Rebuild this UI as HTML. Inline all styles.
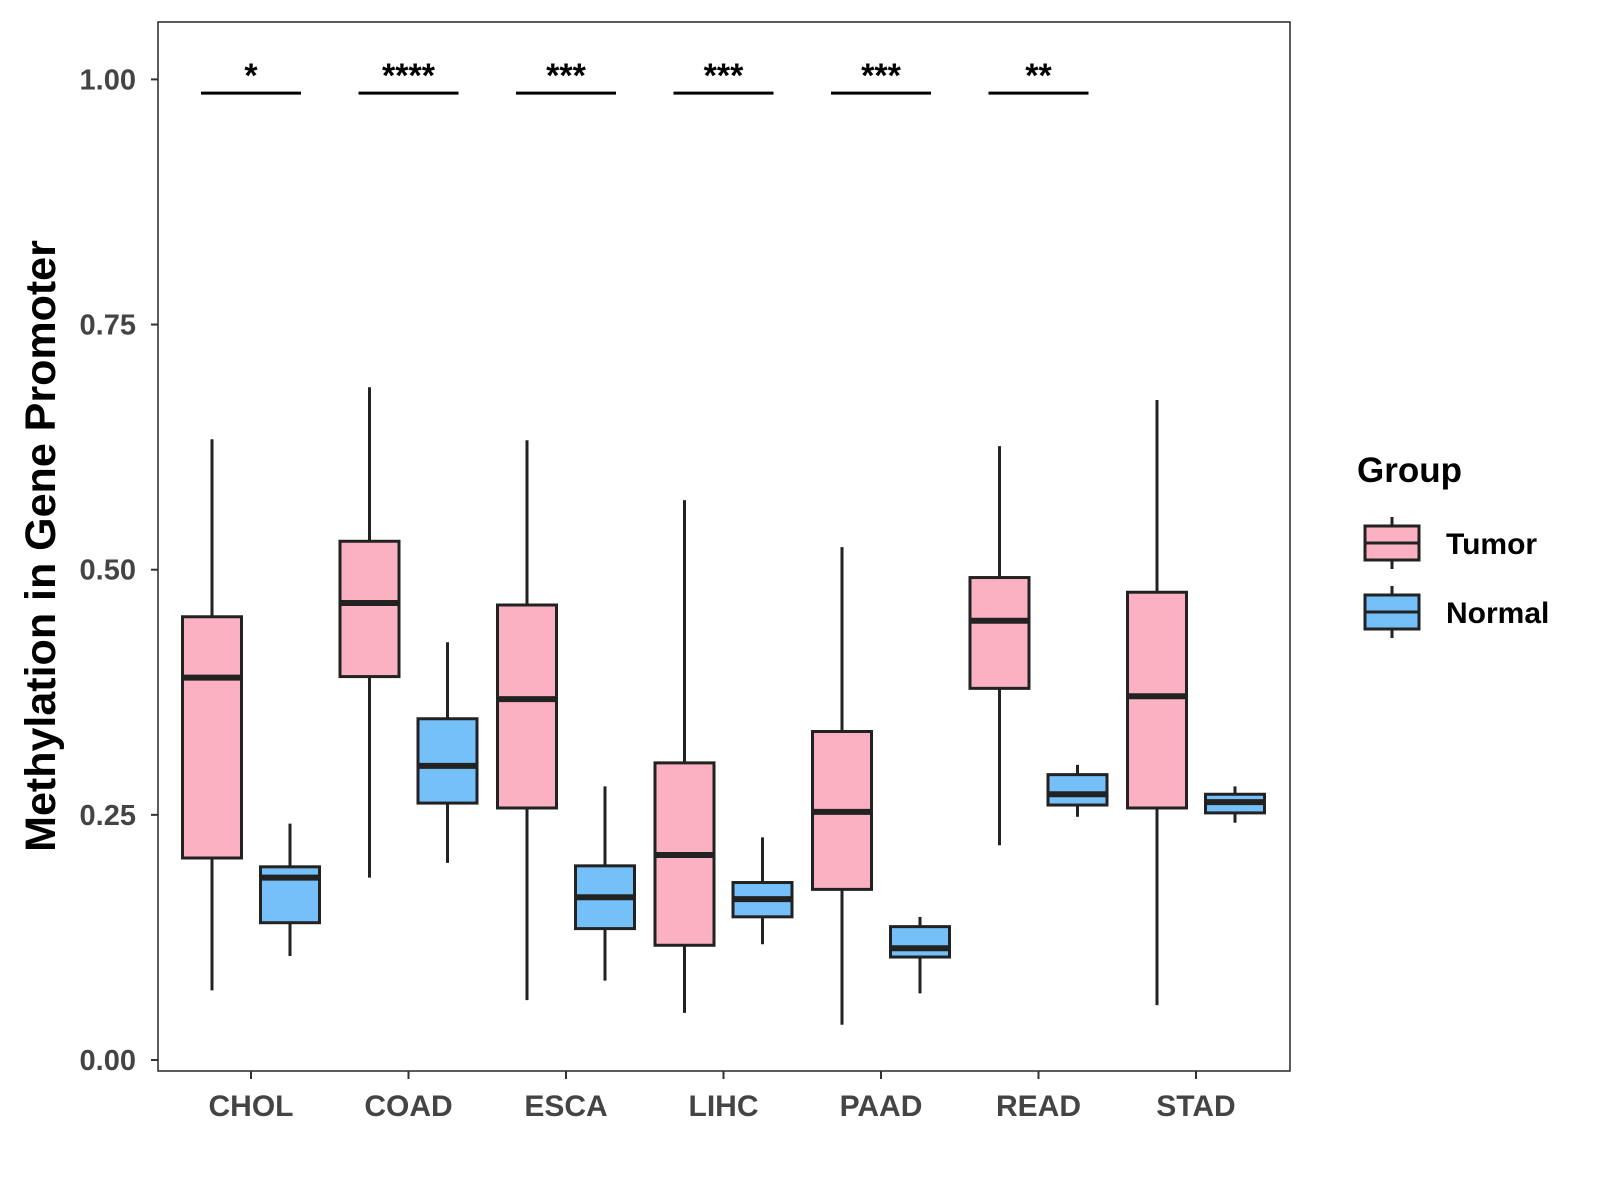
<!DOCTYPE html>
<html><head><meta charset="utf-8"><style>
html,body{margin:0;padding:0;background:#fff;}
svg{display:block;font-family:"Liberation Sans",Arial,sans-serif;}
</style></head><body>
<svg id="chart" width="1600" height="1200" viewBox="0 0 1600 1200"></svg>
<script>
const categories=["CHOL","COAD","ESCA","LIHC","PAAD","READ","STAD"];
// [lowerWhisker, Q1, median, Q3, upperWhisker]
const tumorStats=[[0.071,0.206,0.390,0.452,0.633],[0.186,0.391,0.466,0.529,0.686],[0.061,0.257,0.368,0.464,0.632],[0.048,0.117,0.209,0.303,0.571],[0.036,0.174,0.253,0.335,0.523],[0.219,0.379,0.448,0.492,0.626],[0.056,0.257,0.371,0.477,0.673]];
const normalStats=[[0.106,0.140,0.186,0.197,0.241],[0.201,0.262,0.300,0.348,0.426],[0.081,0.134,0.166,0.198,0.279],[0.118,0.146,0.164,0.181,0.227],[0.068,0.105,0.114,0.136,0.146],[0.248,0.260,0.271,0.291,0.301],[0.242,0.252,0.263,0.271,0.279]];
const signif=["*","****","***","***","***","**",""];
const yTicks=[0,0.25,0.5,0.75,1.0];
const yTickLabels=["0.00","0.25","0.50","0.75","1.00"];
const sigY=0.986;

const NS="http://www.w3.org/2000/svg";
const svg=document.getElementById("chart");
const P={l:158,t:22,r:1290,b:1071};
const y=v=>1060-v*980.6;
const x=i=>251+i*157.5;
function el(t,a,parent){const e=document.createElementNS(NS,t);for(const k in a)e.setAttribute(k,a[k]);(parent||svg).appendChild(e);return e;}

const panel=el("rect",{x:P.l,y:P.t,width:P.r-P.l,height:P.b-P.t,fill:"none",stroke:"#333","stroke-width":1.6});



yTicks.forEach((v,i)=>{
  const tk=el("line",{x1:P.l-7,x2:P.l,y1:y(v),y2:y(v),stroke:"#333","stroke-width":2});
  
  
  const t=el("text",{x:P.l-22,y:y(v)+10,"text-anchor":"end","font-size":29,"font-weight":"bold",fill:"#444"});
  t.textContent=yTickLabels[i];
  
  
});

categories.forEach((c,i)=>{
  const cx=x(i);
  const tk=el("line",{x1:cx,x2:cx,y1:P.b,y2:P.b+8,stroke:"#333","stroke-width":2});
  
  
  const t=el("text",{x:cx,y:P.b+45,"text-anchor":"middle","font-size":30,"font-weight":"bold",fill:"#444"});
  t.textContent=c;
  
  
  [[tumorStats[i],-39,"#FBB1C2","tumor"],[normalStats[i],39,"#75C0F9","normal"]].forEach(([s,off,col,nm])=>{
    const bx=cx+off, w=59;
    const g=el("g",{});
    
    
    el("line",{x1:bx,x2:bx,y1:y(s[0]),y2:y(s[4]),stroke:"#222","stroke-width":3},g);
    el("rect",{x:bx-w/2,y:y(s[3]),width:w,height:y(s[1])-y(s[3]),fill:col,stroke:"#222","stroke-width":3},g);
    el("line",{x1:bx-w/2,x2:bx+w/2,y1:y(s[2]),y2:y(s[2]),stroke:"#222","stroke-width":6},g);
  });
  if(signif[i]){
    const ln=el("line",{x1:cx-50,x2:cx+50,y1:y(sigY),y2:y(sigY),stroke:"#000","stroke-width":3});
    
    
    const st=el("text",{x:cx,y:y(sigY)-6,"text-anchor":"middle","font-size":34,"font-weight":"bold",fill:"#000"});
    st.textContent=signif[i];
    
    
  }
});

const yt=el("text",{x:0,y:0,transform:"translate(55,546) rotate(-90)","text-anchor":"middle","font-size":43,"font-weight":"bold",fill:"#000"});
yt.textContent="Methylation in Gene Promoter";



const lg=el("g",{});


const lt=el("text",{x:1357,y:482,"font-size":35,"font-weight":"bold",fill:"#000"},lg);
lt.textContent="Group";
[["Tumor","#FBB1C2",543],["Normal","#75C0F9",612]].forEach(([n,col,cy])=>{
  const g=el("g",{},lg);
  
  
  el("line",{x1:1392,x2:1392,y1:cy-26,y2:cy+26,stroke:"#222","stroke-width":3},g);
  el("rect",{x:1365,y:cy-17,width:54,height:34,fill:col,stroke:"#222","stroke-width":3},g);
  el("line",{x1:1365,x2:1419,y1:cy,y2:cy,stroke:"#222","stroke-width":3},g);
  const t=el("text",{x:1446,y:cy+11,"font-size":30,"font-weight":"bold",fill:"#000"},g);
  t.textContent=n;
});
</script>
</body></html>
